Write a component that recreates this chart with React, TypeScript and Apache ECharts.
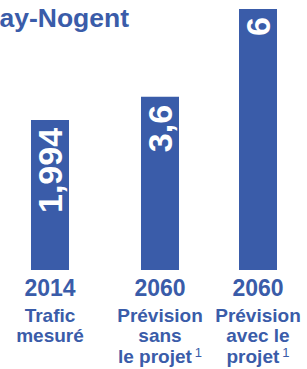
import React, { useEffect, useRef } from "react";
import * as echarts from "echarts";

const years = ["2014", "2060", "2060"];
const descriptions = [
  ["Trafic", "mesuré"],
  ["Prévision", "sans", "le projet"],
  ["Prévision", "avec le", "projet"],
];
const footnotes = [false, true, true];
const trafficValues = [1.994, 3.6, 6];
// bar lengths as drawn in the picture (units where the tallest bar = 6)
const barLengths = [3.45, 3.98, 6];
const titleText = "ay-Nogent";

const BLUE = "#3a5ca9";
const FONT = "Liberation Sans";

export default function App() {
  const ref = useRef<HTMLDivElement>(null);
  useEffect(() => {
    if (!ref.current) return;
    const chart = echarts.init(ref.current, null, { renderer: "svg" });
    const centers = [50, 160, 258];
    const grids = centers.map((c) => ({ left: c - 40, width: 80, top: 9, bottom: 99 }));
    const xAxes = years.map((y, i) => ({
      type: "category",
      gridIndex: i,
      data: [y],
      axisLine: { show: false },
      axisTick: { show: false },
      axisLabel: {
        interval: 0,
        margin: 1,
        formatter: () => {
          const d = descriptions[i];
          const lines = d.map((t, j) =>
            j === d.length - 1 && footnotes[i] ? `{desc|${t}}{sup|1}` : `{desc|${t}}`
          );
          return [`{year|${y}}`, ...lines].join("\n");
        },
        rich: {
          year: { fontSize: 23, fontWeight: "bold", color: BLUE, fontFamily: FONT, lineHeight: 34 },
          desc: { fontSize: 19, fontWeight: "bold", color: BLUE, fontFamily: FONT, lineHeight: 20.5 },
          sup: { fontSize: 13, fontWeight: "normal", color: BLUE, fontFamily: FONT, lineHeight: 20.5, verticalAlign: "top", padding: [0, 0, 0, 3] },
        },
      },
    }));
    const yAxes = years.map((_, i) => ({
      type: "value",
      gridIndex: i,
      min: 0,
      max: 6,
      show: false,
    }));
    const series = barLengths.map((v, i) => ({
      type: "bar",
      xAxisIndex: i,
      yAxisIndex: i,
      data: [v],
      barWidth: 38,
      itemStyle: { color: BLUE },
      label: {
        show: true,
        position: "insideTop",
        distance: 8,
        rotate: 90,
        align: "right",
        verticalAlign: "middle",
        color: "#ffffff",
        fontSize: 34,
        fontWeight: "bold",
        fontFamily: FONT,
        formatter: () => String(trafficValues[i]).replace(".", ","),
      },
    }));
    chart.setOption({
      animation: false,
      grid: grids,
      xAxis: xAxes,
      yAxis: yAxes,
      series,
      graphic: [
        {
          type: "text",
          right: 307 - 129,
          top: 4,
          style: {
            text: titleText,
            fill: BLUE,
            fontSize: 26.5,
            fontWeight: "bold",
            fontFamily: FONT,
          },
        },
      ],
    });
    return () => chart.dispose();
  }, []);
  return <div ref={ref} style={{ width: 307, height: 369, position: "absolute", left: 0, top: 0 }} />;
}
